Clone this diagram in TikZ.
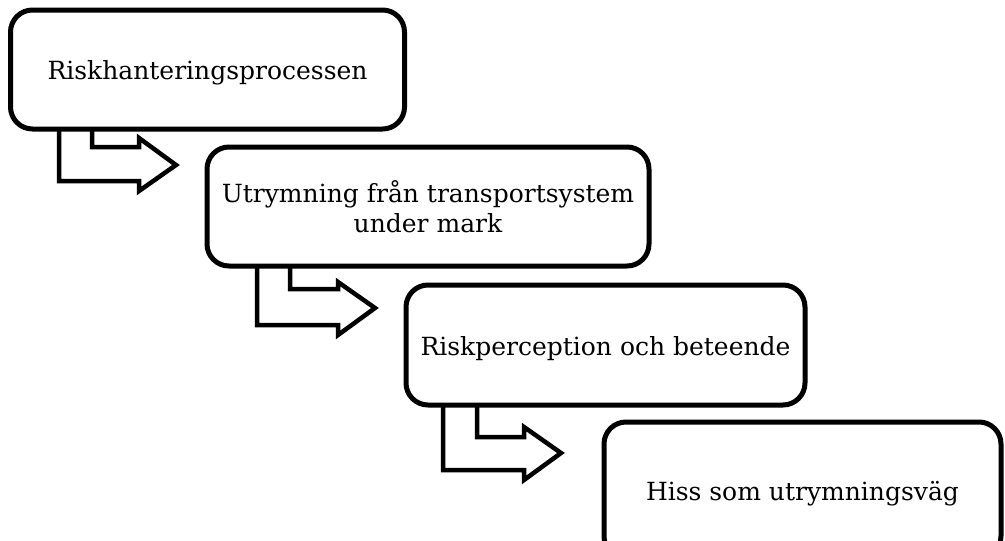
\documentclass[tikz,border=0pt]{standalone}
\usepackage{fontspec}
\setmainfont{DejaVu Serif}
\usetikzlibrary{backgrounds}
\begin{document}
\begin{tikzpicture}[x=1pt,y=-1pt,
  box/.style={draw=black, line width=5pt, rounded corners=22pt, fill=white,
    outer sep=0pt, inner sep=0pt, align=center,
    font=\fontsize{25}{30}\selectfont},
  oneline/.style={text height=20pt, text depth=0pt},
  barrow/.style={draw=black, line width=4.5pt, line join=miter, fill=white}]
\useasboundingbox (0,0) rectangle (1005,541);
\node[box, oneline, minimum width=394pt, minimum height=119pt] (b1) at (207.5,69.5) {Riskhanteringsprocessen};
\node[box, minimum width=442pt, minimum height=119pt] (b2) at (428,206.5) {Utrymning från transportsystem\\under mark};
\node[box, oneline, minimum width=399pt, minimum height=120pt] (b3) at (605.5,345) {Riskperception och beteende};
\node[box, oneline, minimum width=397pt, minimum height=136pt] (b4) at (802.5,490) {Hiss som utrymningsväg};
\begin{scope}[on background layer]
\draw[barrow] (b1.south west) ++(48.5,0) -- ++(0,52) -- ++(80,0) -- ++(0,10) -- ++(37,-26) -- ++(-37,-27) -- ++(0,9) -- ++(-47,0) -- ++(0,-18);
\draw[barrow] (b2.south west) ++(50,0) -- ++(0,59) -- ++(81,0) -- ++(0,10) -- ++(37,-27) -- ++(-37,-26) -- ++(0,7) -- ++(-48,0) -- ++(0,-23);
\draw[barrow] (b3.south west) ++(37,0) -- ++(0,65) -- ++(81,0) -- ++(0,10) -- ++(37,-27) -- ++(-37,-26) -- ++(0,10) -- ++(-47,0) -- ++(0,-32);
\end{scope}
\end{tikzpicture}
\end{document}
